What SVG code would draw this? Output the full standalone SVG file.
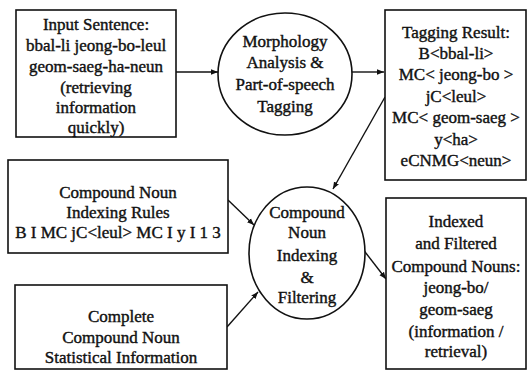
<svg xmlns="http://www.w3.org/2000/svg" width="528" height="370" viewBox="0 0 528 370">
<defs>
<marker id="ah" viewBox="0 0 10 10" refX="10" refY="5" markerWidth="7" markerHeight="7" markerUnits="userSpaceOnUse" orient="auto">
<path d="M0,1 L10,5 L0,9 z" fill="#111"/>
</marker>
<style>
.box{fill:#fff;stroke:#111;stroke-width:1.6}
.t{font-family:"Liberation Serif","Times New Roman",serif;font-size:17px;fill:#111;text-anchor:middle;stroke:#111;stroke-width:0.4}
.c{stroke:#111;stroke-width:1.4;fill:none;marker-end:url(#ah)}
</style>
</defs>
<rect width="528" height="370" fill="#fff"/>
<g id="connectors">
<line class="c" x1="176" y1="72" x2="218" y2="72"/>
<line class="c" x1="352" y1="72" x2="384" y2="72"/>
<line class="c" x1="385" y1="97" x2="333" y2="189"/>
<line class="c" x1="228" y1="200" x2="254" y2="225"/>
<line class="c" x1="227" y1="327" x2="258" y2="292"/>
<line class="c" x1="362" y1="248" x2="386" y2="279"/>
</g>
<g id="input">
<rect class="box" x="16" y="10" width="160" height="127"/>
<text class="t" x="96" y="30">Input Sentence:</text>
<text class="t" x="96" y="51">bbal-li jeong-bo-leul</text>
<text class="t" x="96" y="72">geom-saeg-ha-neun</text>
<text class="t" x="96" y="93">(retrieving</text>
<text class="t" x="96" y="113">information</text>
<text class="t" x="96" y="133">quickly)</text>
</g>
<g id="morphology">
<ellipse class="box" cx="285" cy="74" rx="67" ry="61"/>
<text class="t" x="285" y="47">Morphology</text>
<text class="t" x="285" y="68">Analysis &amp;</text>
<text class="t" x="285" y="90">Part-of-speech</text>
<text class="t" x="285" y="112">Tagging</text>
</g>
<g id="tagging">
<rect class="box" x="385" y="10" width="141" height="170"/>
<text class="t" x="456" y="38">Tagging Result:</text>
<text class="t" x="456" y="59">B&lt;bbal-li&gt;</text>
<text class="t" x="456" y="80">MC&lt; jeong-bo &gt;</text>
<text class="t" x="456" y="102">jC&lt;leul&gt;</text>
<text class="t" x="456" y="123">MC&lt; geom-saeg &gt;</text>
<text class="t" x="456" y="145">y&lt;ha&gt;</text>
<text class="t" x="456" y="166">eCNMG&lt;neun&gt;</text>
</g>
<g id="rules">
<rect class="box" x="8" y="160" width="220" height="93"/>
<text class="t" x="118" y="198">Compound Noun</text>
<text class="t" x="118" y="218">Indexing Rules</text>
<text class="t" x="118" y="238">B I MC jC&lt;leul&gt; MC I y I 1 3</text>
</g>
<g id="statistics">
<rect class="box" x="15" y="285" width="212" height="84"/>
<text class="t" x="121" y="322">Complete</text>
<text class="t" x="121" y="343">Compound Noun</text>
<text class="t" x="121" y="363">Statistical Information</text>
</g>
<g id="indexing">
<ellipse class="box" cx="307" cy="253" rx="58" ry="66"/>
<text class="t" x="307" y="218">Compound</text>
<text class="t" x="307" y="238">Noun</text>
<text class="t" x="307" y="261">Indexing</text>
<text class="t" x="307" y="283">&amp;</text>
<text class="t" x="307" y="303">Filtering</text>
</g>
<g id="output">
<rect class="box" x="386" y="198" width="140" height="171"/>
<text class="t" x="456" y="227">Indexed</text>
<text class="t" x="456" y="249">and Filtered</text>
<text class="t" x="456" y="272">Compound Nouns:</text>
<text class="t" x="456" y="293">jeong-bo/</text>
<text class="t" x="456" y="315">geom-saeg</text>
<text class="t" x="456" y="337">(information /</text>
<text class="t" x="456" y="357">retrieval)</text>
</g>
</svg>
